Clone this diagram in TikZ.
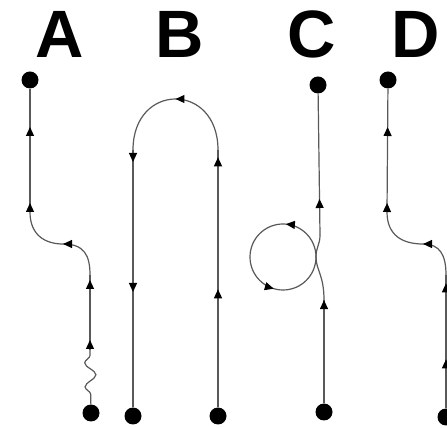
\documentclass[tikz,border=0pt]{standalone}
\usepackage{fontspec}
\setmainfont{Liberation Sans}
\usetikzlibrary{decorations.markings,decorations.pathmorphing,arrows.meta}
\tikzset{
  wire/.style={draw=black!65,line width=1.2pt},
  arr/.style={postaction={decorate,decoration={markings,mark=at position #1 with {\arrow[black]{Triangle[length=9pt,width=8pt]}}}}},
  dot/.style={circle,fill=black,inner sep=0pt,minimum size=17pt},
  letter/.style={font=\bfseries\fontsize{67}{67}\selectfont,anchor=base,inner sep=0pt},
  wiggle/.style={decorate,decoration={snake,amplitude=5.5pt,segment length=24pt,pre length=10pt,post length=4pt}}
}
\begin{document}
\begin{tikzpicture}[x=1pt,y=1pt]
\fill[white] (0,0) rectangle (447,428);
\useasboundingbox (0,0) rectangle (447,428);
% letters
\node[letter] (LA) at (60,370) {A};
\node[letter] (LB) at (180,370) {B};
\node[letter] (LC) at (312,370) {C};
\node[letter] (LD) at (416,370) {D};
% A
\node[dot] (Atop) at (30,348) {};
\node[dot] (Abot) at (91,15) {};
\coordinate (a1) at (90,78);
\coordinate (a2) at (90,153);
\coordinate (a3) at (63,184);
\coordinate (a4) at (30,216);
\draw[wire,wiggle] (Abot) -- (a1);
\draw[wire,arr=10pt,arr=70pt] (a1) -- (a2);
\draw[wire,arr=0.999] (a2) .. controls (90,173) and (84,184) .. (a3);
\draw[wire] (a3) .. controls (45,184) and (30,193) .. (a4);
\draw[wire,arr=9pt,arr=85pt] (a4) -- (Atop);
% B
\node[dot] (Bl) at (133,12) {};
\node[dot] (Br) at (218,12) {};
\coordinate (b1) at (218,278);
\coordinate (b2) at (133,278);
\draw[wire,arr=118pt,arr=250pt] (Br) -- (b1);
\draw[wire,arr=0.5] (b1) .. controls (218,346) and (133,346) .. (b2);
\draw[wire,arr=12pt,arr=142pt] (b2) -- (Bl);
% C
\node[dot] (Ctop) at (318,343) {};
\node[dot] (Cbot) at (324,16) {};
\coordinate (c1) at (324,128);
\coordinate (c2) at (316,171);
\coordinate (c3) at (320,193);
\draw[wire,arr=0.999] (Cbot) -- (c1);
\draw[wire] (c1) .. controls (324,153) and (316,158) .. (c2) .. controls (316,181) and (320,183) .. (c3);
\draw[wire,arr=36pt] (c3) -- (Ctop);
\draw[wire,arr=0.236,arr=0.705] (283,171) circle[radius=33pt];
% D
\node[dot] (Dtop) at (388,348) {};
\node[dot] (Dbot) at (446,11) {};
\coordinate (d1) at (446,153);
\coordinate (d2) at (423,184);
\coordinate (d3) at (387,216);
\draw[wire,arr=49pt,arr=125pt] (Dbot) -- (d1);
\draw[wire,arr=0.999] (d1) .. controls (446,173) and (440,184) .. (d2);
\draw[wire] (d2) .. controls (402,184) and (387,193) .. (d3);
\draw[wire,arr=9pt,arr=85pt] (d3) -- (Dtop);
\end{tikzpicture}
\end{document}
